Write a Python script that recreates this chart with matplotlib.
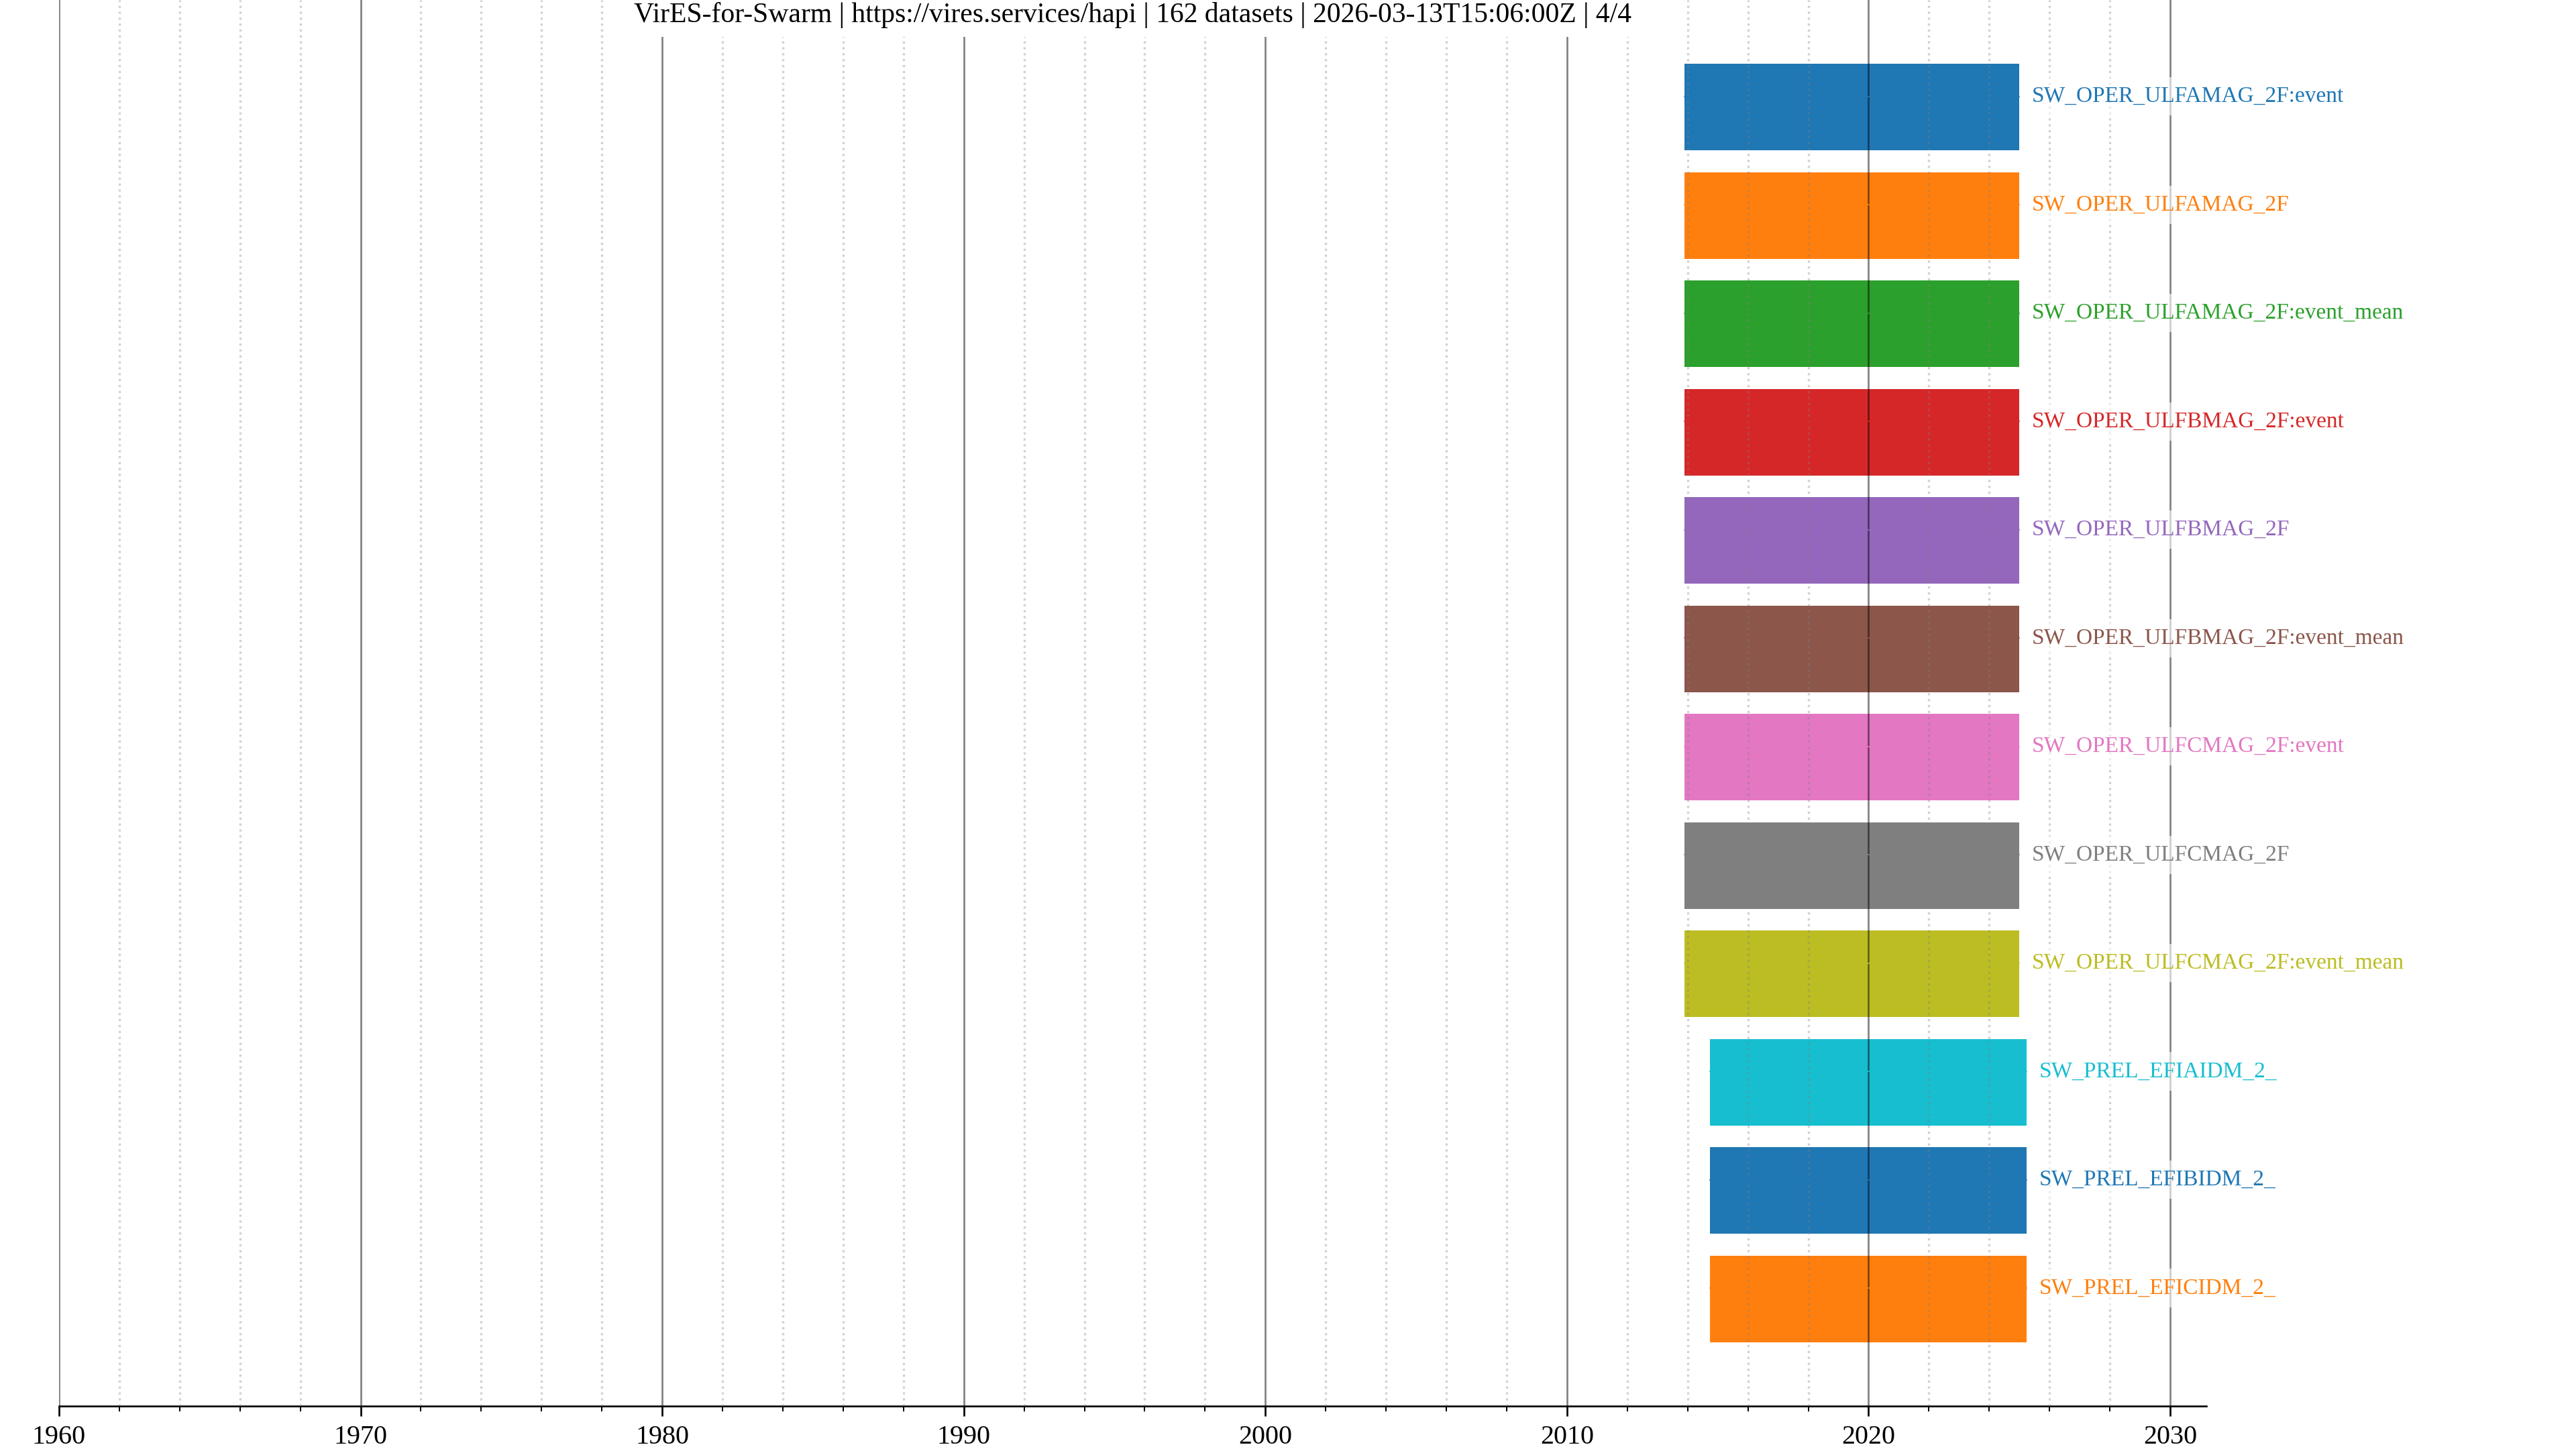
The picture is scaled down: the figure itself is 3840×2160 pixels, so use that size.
import matplotlib
matplotlib.use("Agg")
import matplotlib.pyplot as plt
import matplotlib.dates as mdates
from datetime import datetime

plt.rcParams['font.family'] = ['Liberation Serif', 'DejaVu Serif']

title = ("VirES-for-Swarm | https://vires.services/hapi | 162 datasets | "
         "2026-03-13T15:06:00Z | 4/4")

datasets = [
    "SW_OPER_ULFAMAG_2F:event",
    "SW_OPER_ULFAMAG_2F",
    "SW_OPER_ULFAMAG_2F:event_mean",
    "SW_OPER_ULFBMAG_2F:event",
    "SW_OPER_ULFBMAG_2F",
    "SW_OPER_ULFBMAG_2F:event_mean",
    "SW_OPER_ULFCMAG_2F:event",
    "SW_OPER_ULFCMAG_2F",
    "SW_OPER_ULFCMAG_2F:event_mean",
    "SW_PREL_EFIAIDM_2_",
    "SW_PREL_EFIBIDM_2_",
    "SW_PREL_EFICIDM_2_",
]
starts = ["2013-11-22"] * 9 + ["2014-09-27"] * 3
stops = ["2024-12-28"] * 9 + ["2025-03-28"] * 3

colors = [f"C{i % 10}" for i in range(len(datasets))]

fig = plt.figure(figsize=(16, 9), dpi=240)
ax = fig.add_axes([0.0229, 0.0296, 0.8336, 0.9704])

for i, name in enumerate(datasets):
    t0 = mdates.date2num(datetime.strptime(starts[i], "%Y-%m-%d"))
    t1 = mdates.date2num(datetime.strptime(stops[i], "%Y-%m-%d"))
    y = -i
    ax.barh(y - 0.1, t1 - t0, left=t0, height=0.8, color=colors[i], zorder=1)
    ax.plot([t0, t1], [y, y], color=colors[i], lw=0.5, zorder=3)
    ax.annotate(name, (t1, y), xytext=(5.7, 0), textcoords="offset points",
                ha="left", va="center", fontsize=10, color=colors[i],
                bbox=dict(boxstyle="square,pad=0.4", facecolor="white",
                          edgecolor="none", alpha=0.6), zorder=4)

ax.set_xlim(mdates.date2num(datetime(1960, 1, 1)),
            mdates.date2num(datetime(2031, 3, 15)))

ax.xaxis.set_major_locator(mdates.YearLocator(10))
ax.xaxis.set_minor_locator(mdates.YearLocator(2))
ax.xaxis.set_major_formatter(mdates.DateFormatter("%Y"))
ax.grid(True, which="major", axis="x", color="k", alpha=0.5, lw=0.8, zorder=2)
ax.grid(True, which="minor", axis="x", color="gray", alpha=0.35, lw=1.0,
        linestyle=":", zorder=2)
ax.set_axisbelow(False)

ax.tick_params(axis="x", which="major", length=4.5, width=0.8, labelsize=12, pad=4)
ax.tick_params(axis="x", which="minor", length=2.5, width=0.6)
ax.tick_params(axis="y", left=False, labelleft=False)
for s in ["top", "left", "right"]:
    ax.spines[s].set_visible(False)

ax.annotate(title, (0.5, 1.0), xycoords="axes fraction", xytext=(0, -1.0),
            textcoords="offset points", ha="center", va="top", fontsize=12.5,
            bbox=dict(boxstyle="square,pad=0.3", facecolor="white",
                      edgecolor="none"), zorder=5)

fig.savefig("out.png", dpi=240)
